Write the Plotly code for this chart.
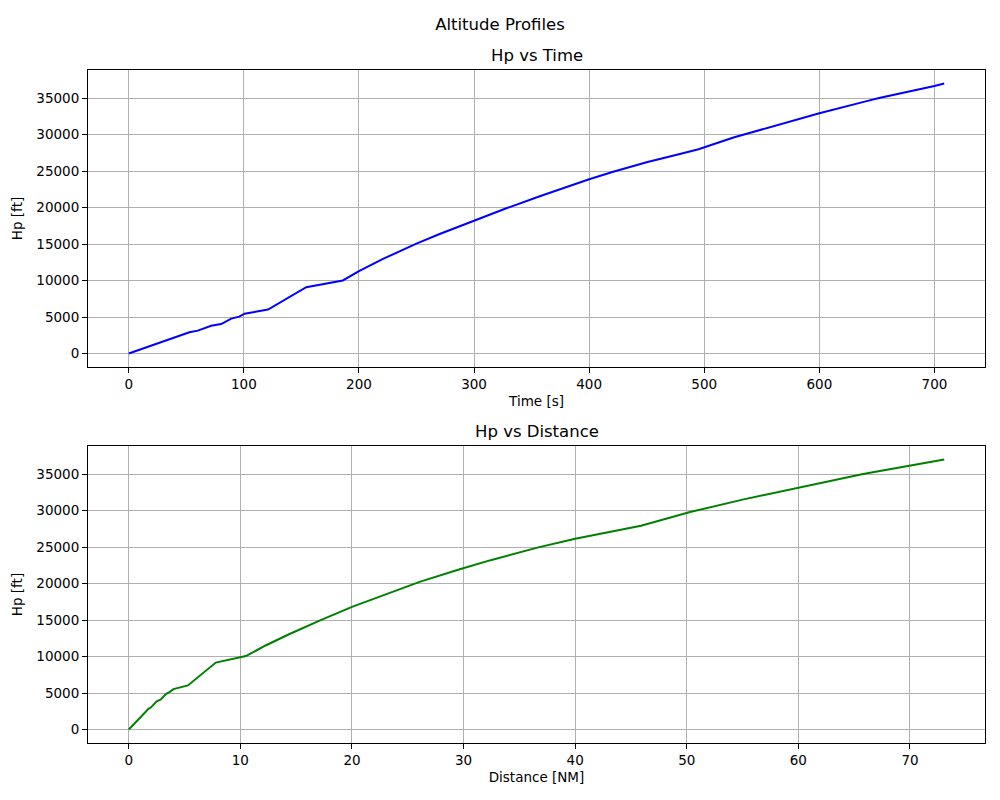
import plotly.graph_objects as go

# ── Datos del perfil de ascenso ───────────────────────────────────────────────
tiempo_s = [0, 52.7, 60, 71.6, 80.3, 89, 96, 100.6, 121, 154.2, 186,
            200, 220.9, 249.9, 270.1, 300, 328.1, 357.1, 377.4, 400, 420.9,
            449.9, 478.8, 495, 525.4, 554, 600, 640.3, 651.9, 700, 708.5]
hp_tiempo_ft = [0, 2900, 3130, 3810, 4040, 4780, 5050, 5460, 6020, 9090, 10010,
                11285, 12960, 15050, 16380, 18210, 19900, 21550, 22680, 23870, 24900,
                26200, 27350, 27980, 29600, 30900, 32930, 34550, 35000, 36665, 37000]

distancia_nm = [0, 1.79, 2.0, 2.5, 2.84, 3.35, 3.65, 4.0, 5.3, 7.8, 10.5,
                12.26, 14.36, 17.2, 20, 23.36, 26.06, 29.66, 32.43, 36.7, 40,
                45.9, 50.3, 55, 60, 65.8, 73.07]
hp_distancia_ft = [0, 2860, 3040, 3870, 4100, 4880, 5120, 5530, 6040, 9170, 10060,
                   11515, 13050, 15000, 16800, 18750, 20230, 21960, 23205, 24955, 26143,
                   27913, 29800, 31500, 33150, 35000, 37000]

FUENTE = "DejaVu Sans"
GRID = "#b0b0b0"
# el body de la página tiene 8px de margen: la figura se reduce para caber
W, H = 984, 784


def rango(vals):
    lo, hi = min(vals), max(vals)
    m = 0.05 * (hi - lo)
    return [lo - m, hi + m]


fig = go.Figure()

fig.add_trace(go.Scatter(
    x=tiempo_s, y=hp_tiempo_ft, mode="lines",
    line=dict(color="blue", width=2),
    xaxis="x", yaxis="y", showlegend=False,
))
fig.add_trace(go.Scatter(
    x=distancia_nm, y=hp_distancia_ft, mode="lines",
    line=dict(color="green", width=2),
    xaxis="x2", yaxis="y2", showlegend=False,
))

# ── Estilo de ejes tipo matplotlib ────────────────────────────────────────────
eje = dict(
    showline=True, linecolor="black", linewidth=1, mirror=True,
    ticks="outside", ticklen=5, tickwidth=1, tickcolor="black",
    showgrid=True, gridcolor=GRID, gridwidth=1.1,
    zeroline=False, automargin=False, tickformat="d",
    tickfont=dict(family=FUENTE, size=13.5, color="black"),
    title_font=dict(family=FUENTE, size=13.5, color="black"),
)

fig.update_layout(
    width=W, height=H,
    margin=dict(l=80, r=7, t=62, b=49),
    paper_bgcolor="white", plot_bgcolor="white",
    title=dict(
        text="Altitude Profiles", x=0.5, xanchor="center",
        y=1 - 16 / H, yanchor="middle", yref="container",
        font=dict(family=FUENTE, size=16.5, color="black"),
    ),
    xaxis=dict(eje, domain=[0, 1], anchor="y", range=rango(tiempo_s),
               dtick=100, title=dict(text="Time [s]", standoff=5)),
    yaxis=dict(eje, domain=[0.5587, 1], anchor="x", range=rango(hp_tiempo_ft),
               dtick=5000, title=dict(text="Hp [ft]", standoff=10)),
    xaxis2=dict(eje, domain=[0, 1], anchor="y2", range=rango(distancia_nm),
                dtick=10, title=dict(text="Distance [NM]", standoff=5)),
    yaxis2=dict(eje, domain=[0, 0.4413], anchor="x2", range=rango(hp_distancia_ft),
                dtick=5000, title=dict(text="Hp [ft]", standoff=10)),
    annotations=[
        dict(text="Hp vs Time", xref="x domain", yref="y domain",
             x=0.5, y=1, xanchor="center", yanchor="bottom", yshift=3,
             showarrow=False, font=dict(family=FUENTE, size=16.5, color="black")),
        dict(text="Hp vs Distance", xref="x2 domain", yref="y2 domain",
             x=0.5, y=1, xanchor="center", yanchor="bottom", yshift=3,
             showarrow=False, font=dict(family=FUENTE, size=16.5, color="black")),
    ],
)

fig.write_html("out.html")
